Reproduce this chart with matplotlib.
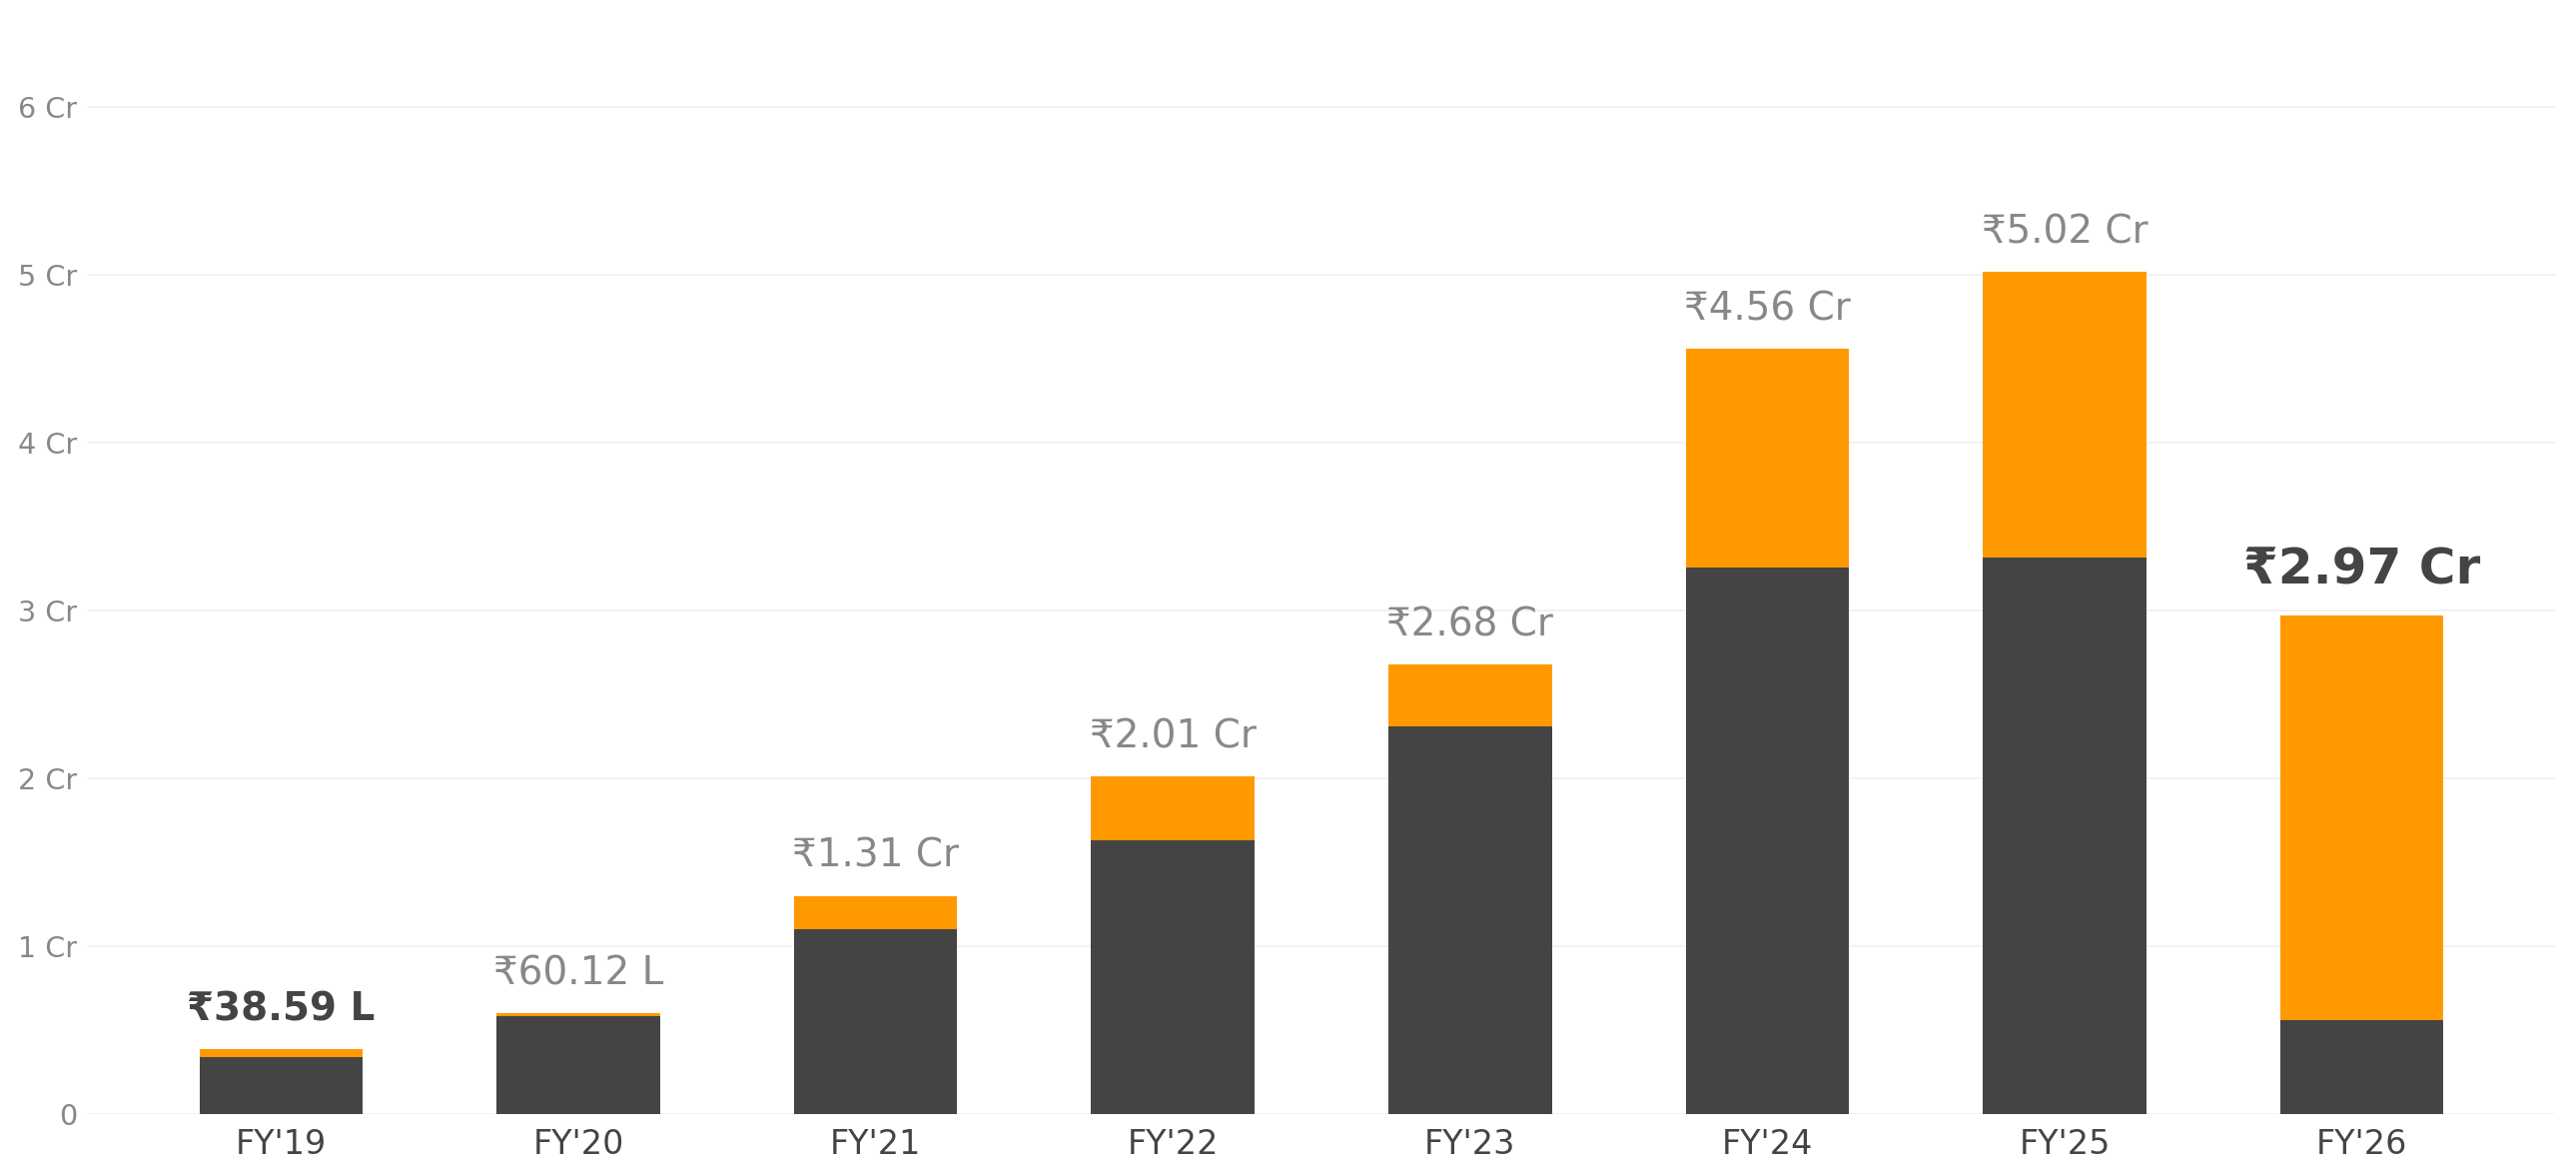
import matplotlib
matplotlib.use("Agg")
import matplotlib.pyplot as plt
import numpy as np

# yearly totals in crore, split into the two stacked parts
years = ["FY'19", "FY'20", "FY'21", "FY'22", "FY'23", "FY'24", "FY'25", "FY'26"]
base_part = [0.34, 0.585, 1.10, 1.63, 2.31, 3.26, 3.32, 0.56]
top_part = [0.046, 0.016, 0.20, 0.38, 0.37, 1.30, 1.70, 2.41]
total_labels = ["₹38.59 L", "₹60.12 L", "₹1.31 Cr", "₹2.01 Cr", "₹2.68 Cr",
                "₹4.56 Cr", "₹5.02 Cr", "₹2.97 Cr"]
highlight = [True, False, False, False, False, False, False, True]
y_ticks = [0, 1, 2, 3, 4, 5, 6]
y_tick_labels = ["0", "1 Cr", "2 Cr", "3 Cr", "4 Cr", "5 Cr", "6 Cr"]

DARK = "#444444"
ORANGE = "#FF9900"
GREY = "#888888"

plt.rcParams['font.family'] = ['DejaVu Sans']

fig = plt.figure(figsize=(12.895, 5.885), dpi=200)
ax = fig.add_axes([88 / 2579, 62 / 1177, (2558 - 88) / 2579, 1 - 62 / 1177])

x = np.arange(len(years))
width = 0.55
ax.bar(x, base_part, width, color=DARK, zorder=2)
ax.bar(x, top_part, width, bottom=base_part, color=ORANGE, zorder=2)

totals = np.array(base_part) + np.array(top_part)
for i, lab in enumerate(total_labels):
    if i == len(years) - 1:
        ax.annotate(lab, (x[i], totals[i]), xytext=(0, 8), textcoords='offset points',
                    ha='center', va='bottom', fontsize=18, fontweight='bold', color=DARK)
    elif highlight[i]:
        ax.annotate(lab, (x[i], totals[i]), xytext=(0, 7.5), textcoords='offset points',
                    ha='center', va='bottom', fontsize=14, fontweight='bold', color=DARK)
    else:
        ax.annotate(lab, (x[i], totals[i]), xytext=(0, 7.5), textcoords='offset points',
                    ha='center', va='bottom', fontsize=14, color=GREY)

ax.set_xlim(-0.65, 7.65)
ax.set_ylim(0, 6.64)
ax.set_xticks(x)
ax.set_xticklabels(years, fontsize=12, color=DARK)
ax.set_yticks(y_ticks)
ax.set_yticklabels(y_tick_labels, fontsize=10.3, color=GREY)
ax.tick_params(axis='x', length=0, pad=5)
ax.tick_params(axis='y', length=0, pad=4)
ax.grid(axis='y', color='#f0f0f0', linewidth=0.6, zorder=0)
for s in ax.spines.values():
    s.set_visible(False)

fig.savefig("out.png", dpi=200)
